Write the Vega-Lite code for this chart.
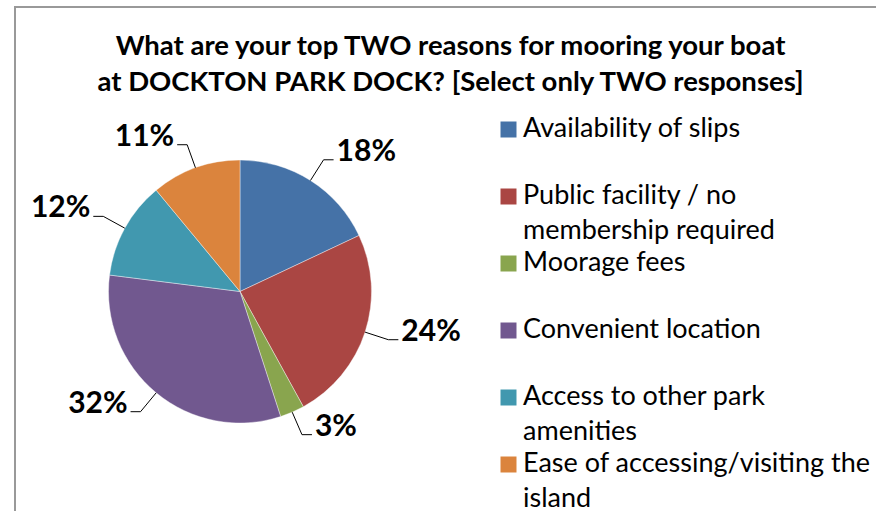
{
  "$schema": "https://vega.github.io/schema/vega-lite/v6.json",
  "autosize": "none",
  "padding": {"left": 15, "top": 7, "right": -5, "bottom": -5},
  "width": 866,
  "height": 509,
  "title": {
    "text": ["What are your top TWO reasons for mooring your boat", "at DOCKTON PARK DOCK? [Select only TWO responses]"],
    "font": "Lato",
    "fontSize": 27.5,
    "fontWeight": "bold",
    "lineHeight": 36,
    "color": "#000000",
    "anchor": "middle",
    "dx": 2.5,
    "dy": 89,
    "offset": 0
  },
  "config": {
    "view": {"stroke": "#999999", "strokeWidth": 2},
    "font": "Lato"
  },
  "data": {
    "values": [
      {"reason": "Availability of slips", "value": 18},
      {"reason": "Public facility / no membership required", "value": 24},
      {"reason": "Moorage fees", "value": 3},
      {"reason": "Convenient location", "value": 32},
      {"reason": "Access to other park amenities", "value": 12},
      {"reason": "Ease of accessing/visiting the island", "value": 11}
    ]
  },
  "transform": [
    {"window": [{"op": "row_number", "as": "idx"}]},
    {"joinaggregate": [{"op": "sum", "field": "value", "as": "total"}]},
    {"window": [{"op": "sum", "field": "value", "as": "cum"}], "sort": [{"field": "idx"}], "frame": [null, 0]},
    {"calculate": "2 * PI * (datum.cum - datum.value / 2) / datum.total", "as": "mid"},
    {"calculate": "sin(datum.mid)", "as": "sx"},
    {"calculate": "cos(datum.mid)", "as": "cy"},
    {"calculate": "datum.sx >= 0 ? 1 : -1", "as": "side"},
    {"calculate": "131.5 * datum.sx", "as": "x1"},
    {"calculate": "131.5 * datum.cy", "as": "y1"},
    {"calculate": "156 * datum.sx", "as": "x2"},
    {"calculate": "156 * datum.cy", "as": "y2"},
    {"calculate": "datum.x2 + 10 * datum.side", "as": "x3"},
    {"calculate": "datum.x3 + 3 * datum.side", "as": "xt"},
    {"calculate": "datum.value + '%'", "as": "pct"},
    {"calculate": "replace(replace(replace(datum.reason, ' membership', '\\nmembership'), ' amenities', '\\namenities'), ' island', '\\nisland')", "as": "legendLabel"}
  ],
  "resolve": {"scale": {"y": "independent"}},
  "layer": [
    {
      "layer": [
        {
          "mark": {"type": "arc", "outerRadius": 131.5, "stroke": "#ffffff", "strokeWidth": 0.4},
          "encoding": {
            "theta": {"field": "value", "type": "quantitative", "stack": true},
            "order": {"field": "idx", "type": "quantitative"},
            "color": {
              "field": "reason", "type": "nominal", "legend": null,
              "scale": {
                "domain": ["Availability of slips", "Public facility / no membership required", "Moorage fees", "Convenient location", "Access to other park amenities", "Ease of accessing/visiting the island"],
                "range": ["#4572A7", "#AA4643", "#89A54E", "#71588F", "#4198AF", "#DB843D"]
              }
            },
            "x": {"datum": 0, "type": "quantitative", "axis": null, "scale": {"domain": [-225, 641], "nice": false, "zero": false}},
            "y": {"datum": 0, "type": "quantitative", "axis": null, "scale": {"domain": [-224.5, 284.5], "nice": false, "zero": false}}
          }
        },
        {
          "mark": {"type": "rule", "color": "#000000", "strokeWidth": 1},
          "encoding": {
            "x": {"field": "x1", "type": "quantitative", "axis": null},
            "y": {"field": "y1", "type": "quantitative", "axis": null},
            "x2": {"field": "x2"},
            "y2": {"field": "y2"}
          }
        },
        {
          "mark": {"type": "rule", "color": "#000000", "strokeWidth": 1},
          "encoding": {
            "x": {"field": "x2", "type": "quantitative", "axis": null},
            "y": {"field": "y2", "type": "quantitative", "axis": null},
            "x2": {"field": "x3"},
            "y2": {"field": "y2"}
          }
        },
        {
          "mark": {"type": "text", "font": "Lato", "fontSize": 30, "fontWeight": "bold", "color": "#000000", "baseline": "alphabetic", "dy": 1, "align": {"expr": "datum.side > 0 ? 'left' : 'right'"}},
          "encoding": {
            "x": {"field": "xt", "type": "quantitative", "axis": null},
            "y": {"field": "y2", "type": "quantitative", "axis": null},
            "text": {"field": "pct", "type": "nominal"}
          }
        }
      ]
    },
    {
      "layer": [
        {
          "mark": {"type": "square", "size": 256, "filled": true, "opacity": 1},
          "encoding": {
            "x": {"datum": 268.5, "type": "quantitative", "axis": null},
            "y": {"field": "reason", "type": "nominal", "axis": null, "sort": null,
                  "scale": {"type": "point", "range": [122.5, 457.5], "padding": 0,
                            "domain": ["Availability of slips", "Public facility / no membership required", "Moorage fees", "Convenient location", "Access to other park amenities", "Ease of accessing/visiting the island"]}},
            "color": {"field": "reason", "type": "nominal", "legend": null}
          }
        },
        {
          "mark": {"type": "text", "font": "Lato", "fontSize": 27, "color": "#000000", "align": "left", "baseline": "top", "dy": -13.5, "lineHeight": 35, "lineBreak": "\n"},
          "encoding": {
            "x": {"datum": 283, "type": "quantitative", "axis": null},
            "y": {"field": "reason", "type": "nominal", "axis": null, "sort": null},
            "text": {"field": "legendLabel", "type": "nominal"}
          }
        }
      ]
    }
  ]
}
